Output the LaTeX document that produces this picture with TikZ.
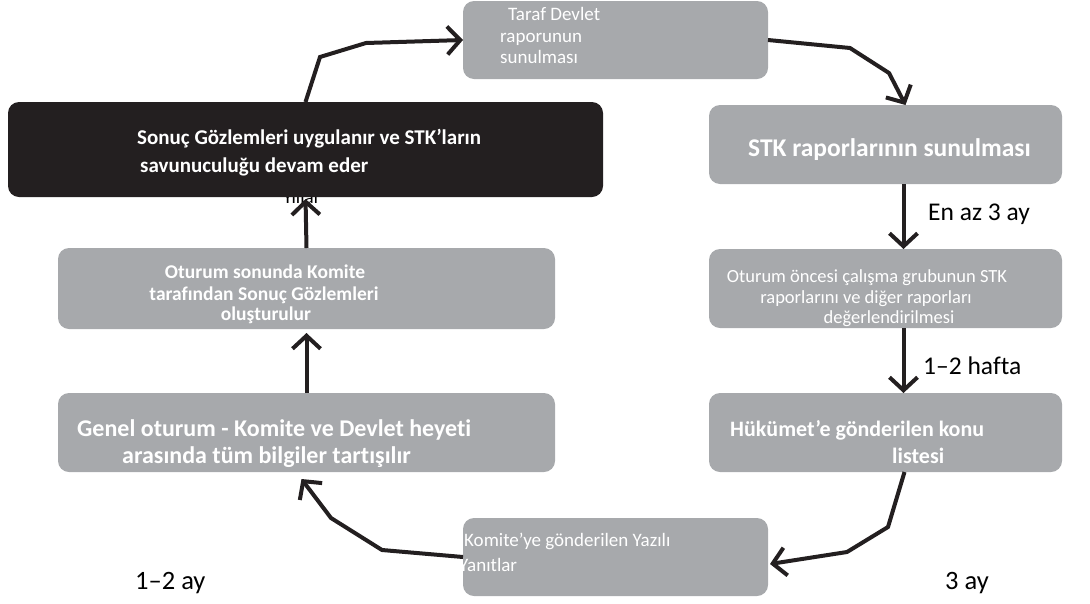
\documentclass[tikz,border=0pt]{standalone}
\usepackage{fontspec}
\setmainfont{Carlito}[Ligatures=NoCommon]
\usetikzlibrary{arrows.meta,calc}
\definecolor{boxgray}{HTML}{A7A9AC}
\definecolor{boxblack}{HTML}{231F20}
\definecolor{inkline}{HTML}{231F20}
\begin{document}
\begin{tikzpicture}[x=1pt,y=-1pt,
  box/.style={fill=boxgray, rounded corners=11pt, inner sep=0pt, outer sep=0pt},
  darkbox/.style={fill=boxblack, rounded corners=11pt, inner sep=0pt, outer sep=0pt},
  conn/.style={draw=inkline, line width=4pt, line join=miter,
    -{Straight Barb[length=13pt,width=28pt]}},
  wt/.style={text=white, inner sep=0pt, anchor=base west},
  bt/.style={text=black, inner sep=0pt, anchor=base west},
  fr/.style={font=\fontsize{#1}{#1}\selectfont},
  fb/.style={font=\fontsize{#1}{#1}\selectfont\bfseries},
]
\useasboundingbox (0,0) rectangle (1090,603);

% partly hidden caption behind the dark box
\node[bt, fr=19] (hid) at (283,203) {Yıllar};

% process boxes
\node[box, minimum width=305pt, minimum height=78pt] (taraf) at (615.5,40) {};
\node[darkbox, minimum width=595pt, minimum height=95pt] (sonuc) at (305.5,149.5) {};
\node[box, minimum width=353pt, minimum height=79pt] (stk) at (885.5,144.5) {};
\node[box, minimum width=353pt, minimum height=79pt] (pre) at (885.5,288.5) {};
\node[box, minimum width=353pt, minimum height=79pt] (huk) at (885.5,432.5) {};
\node[box, minimum width=305pt, minimum height=78pt] (kom) at (615.5,557) {};
\node[box, minimum width=497pt, minimum height=79pt] (gen) at (306.5,432.5) {};
\node[box, minimum width=497pt, minimum height=81pt] (son) at (306.5,288.5) {};

% box texts
\node[wt, fr=19] (t1) at (508,20) {Taraf Devlet};
\node[wt, fr=19] (t2) at (500,42) {raporunun};
\node[wt, fr=19] (t3) at (500,63) {sunulması};

\node[wt, fb=21] (s1) at (137,144) {Sonuç Gözlemleri uygulanır ve STK’ların};
\node[wt, fb=21] (s2) at (140,172) {savunuculuğu devam eder};

\node[wt, fb=25.5] (k1) at (748,156) {STK raporlarının sunulması};

\node[wt, fr=18.5, anchor=base] (p1) at (867,282) {Oturum öncesi çalışma grubunun STK};
\node[wt, fr=18.5, anchor=base] (p2) at (866,303) {raporlarını ve diğer raporları};
\node[wt, fr=18.5, anchor=base] (p3) at (889,323) {değerlendirilmesi};

\node[wt, fb=22] (h1) at (730,436) {Hükümet’e gönderilen konu};
\node[wt, fb=22] (h2) at (892,463) {listesi};

\node[wt, fr=19] (y1) at (464,546) {Komite’ye gönderilen Yazılı};
\begin{scope}
  \clip (kom.north west) rectangle (kom.south east);
  \node[wt, fr=19] (y2) at (459,571) {Yanıtlar};
\end{scope}

\node[wt, fb=24] (g1) at (77,436) {Genel oturum - Komite ve Devlet heyeti};
\node[wt, fb=24] (g2) at (122,463) {arasında tüm bilgiler tartışılır};

\node[wt, fb=19.5, anchor=base] (o1) at (265,278) {Oturum sonunda Komite};
\node[wt, fb=19.5, anchor=base] (o2) at (264,300) {tarafından Sonuç Gözlemleri};
\node[wt, fb=19.5, anchor=base] (o3) at (266,320) {oluşturulur};

% time labels
\node[bt, fr=25.5] (l1) at (928,220) {En az 3 ay};
\node[bt, fr=25.5] (l2) at (923,374) {1–2 hafta};
\node[bt, fr=26.5] (l3) at (135,589) {1–2 ay};
\node[bt, fr=26.5] (l4) at (945,589) {3 ay};

% connectors
\draw[conn] (sonuc.north) -- (320,57) -- (366,43) -- (taraf.west);
\draw[conn] (taraf.east) -- (850,48) -- (889,73) -- ([xshift=20pt]stk.north);
\draw[conn] ([xshift=18pt]stk.south) -- ([xshift=18pt]pre.north);
\draw[conn] ([xshift=18pt]pre.south) -- ([xshift=18pt]huk.north);
\draw[conn] ([xshift=19pt]huk.south) -- (888,527) -- (847,552) -- ([xshift=2pt,yshift=-7pt]kom.east);
\draw[conn] (kom.west) -- (382,550) -- (331,518) -- ([xshift=-5pt,yshift=-7pt]gen.south);
\draw[conn, shorten >=4pt] (gen.north) -- (son.south);
\draw[conn, shorten >=2pt] (son.north) -- (sonuc.south);
\end{tikzpicture}
\end{document}
